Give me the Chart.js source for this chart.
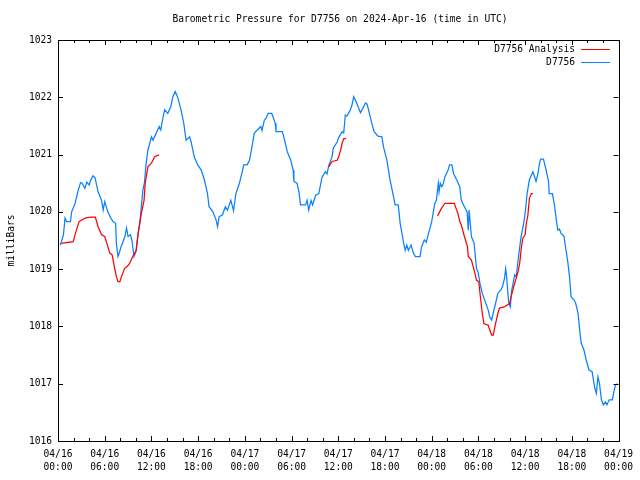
<!DOCTYPE html>
<html>
<head>
<meta charset="utf-8">
<script src="https://cdn.jsdelivr.net/npm/chart.js@4/dist/chart.umd.min.js"></script>
<style>
  html, body { margin: 0; padding: 0; background: #fff; }
  #wrap { width: 640px; height: 480px; }
</style>
</head>
<body>
<div id="wrap"><canvas id="chart" width="640" height="480"></canvas></div>
<script>
// hours since 2024-04-16 00:00 UTC
const blueHours = [
  0.3, 0.7, 0.9, 1.1, 1.6, 1.75, 2.0, 2.2, 2.6, 2.9, 3.1, 3.45, 3.7, 4.0, 4.2, 4.5, 4.75, 5.15, 5.6, 5.8,
  6.0, 6.4, 6.75, 7.07, 7.4, 7.5, 7.7, 7.9, 8.1, 8.6, 8.8, 9.0, 9.3, 9.5, 9.76, 10.0, 10.3, 10.5, 10.7, 10.9,
  11.1, 11.3, 11.55, 11.8, 12.0, 12.2, 12.6, 13.0, 13.2, 13.5, 13.7, 14.1, 14.5, 14.75, 15.05, 15.35, 15.8, 16.15, 16.45, 16.9,
  17.1, 17.5, 17.95, 18.4, 18.8, 19.2, 19.4, 19.9, 20.3, 20.5, 20.7, 21.1, 21.5, 21.75, 22.2, 22.55, 22.85, 23.3, 23.7, 23.85,
  24.3, 24.6, 25.0, 25.2, 25.6, 26.05, 26.2, 26.5, 26.7, 27.0, 27.45, 27.9, 28.0, 28.8, 29.0, 29.45, 29.9, 30.2, 30.3, 30.7,
  30.95, 31.15, 31.8, 32.0, 32.2, 32.5, 32.7, 33.1, 33.5, 33.9, 34.35, 34.55, 34.8, 35.2, 35.35, 35.85, 36.1, 36.5, 36.7, 36.9,
  37.1, 37.55, 37.75, 37.98, 38.3, 38.85, 39.5, 39.7, 40.0, 40.3, 40.6, 41.1, 41.6, 41.8, 42.25, 42.45, 42.65, 43.1, 43.3, 43.7,
  43.95, 44.4, 44.6, 44.8, 45.0, 45.35, 45.65, 45.9, 46.5, 46.7, 47.05, 47.3, 47.6, 48.0, 48.4, 48.6, 48.85, 48.95, 49.1, 49.3,
  49.5, 49.7, 50.1, 50.3, 50.6, 50.8, 51.2, 51.6, 51.8, 52.2, 52.55, 52.7, 52.8, 53.1, 53.45, 53.75, 53.95, 54.2, 54.5, 54.8,
  55.25, 55.45, 55.7, 55.9, 56.2, 56.5, 56.9, 57.1, 57.35, 57.5, 57.6, 57.75, 57.9, 58.1, 58.25, 58.45, 58.65, 58.85, 59.1, 59.45,
  59.85, 60.05, 60.25, 60.55, 60.8, 61.0, 61.4, 61.65, 61.85, 62.0, 62.35, 62.7, 63.0, 63.1, 63.5, 63.8, 64.0, 64.2, 64.4, 64.6,
  65.0, 65.25, 65.45, 65.7, 65.9, 66.3, 66.5, 66.8, 67.0, 67.2, 67.55, 67.8, 68.2, 68.6, 68.95, 69.15, 69.35, 69.55, 69.8, 70.05,
  70.3, 70.5, 70.8, 71.2, 71.4, 71.6, 71.85
];
const blueValues = [
  1019.42, 1019.6, 1019.89, 1019.83, 1019.83, 1020.0, 1020.08, 1020.15, 1020.38, 1020.51, 1020.5, 1020.41, 1020.52, 1020.47, 1020.55, 1020.63, 1020.6, 1020.35, 1020.2, 1020.03,
  1020.18, 1020.0, 1019.9, 1019.83, 1019.8, 1019.45, 1019.22, 1019.3, 1019.39, 1019.57, 1019.72, 1019.57, 1019.6, 1019.5, 1019.22, 1019.3, 1019.63, 1019.8, 1020.09, 1020.38,
  1020.5, 1020.82, 1021.08, 1021.2, 1021.31, 1021.25, 1021.37, 1021.49, 1021.43, 1021.66, 1021.78, 1021.72, 1021.84, 1022.01, 1022.1, 1022.01, 1021.78, 1021.55, 1021.25, 1021.31,
  1021.22, 1020.96, 1020.82, 1020.73, 1020.56, 1020.32, 1020.09, 1020.0, 1019.86, 1019.74, 1019.92, 1019.94, 1020.09, 1020.03, 1020.2, 1020.02, 1020.32, 1020.5, 1020.72, 1020.82,
  1020.82, 1020.9, 1021.2, 1021.37, 1021.43, 1021.49, 1021.42, 1021.6, 1021.63, 1021.72, 1021.72, 1021.55, 1021.4, 1021.4, 1021.31, 1021.05, 1020.9, 1020.73, 1020.53, 1020.5,
  1020.35, 1020.12, 1020.12, 1020.2, 1020.03, 1020.2, 1020.12, 1020.29, 1020.32, 1020.6, 1020.7, 1020.66, 1020.82, 1020.96, 1021.11, 1021.22, 1021.31, 1021.4, 1021.38, 1021.69,
  1021.67, 1021.78, 1021.86, 1022.01, 1021.92, 1021.73, 1021.9, 1021.88, 1021.72, 1021.55, 1021.4, 1021.32, 1021.31, 1021.14, 1020.9, 1020.73, 1020.56, 1020.26, 1020.12, 1020.12,
  1019.8, 1019.45, 1019.33, 1019.42, 1019.33, 1019.42, 1019.28, 1019.22, 1019.22, 1019.39, 1019.51, 1019.47, 1019.63, 1019.83, 1020.15, 1020.2, 1020.5, 1020.35, 1020.5, 1020.44,
  1020.5, 1020.61, 1020.73, 1020.82, 1020.82, 1020.67, 1020.56, 1020.44, 1020.2, 1020.09, 1020.0, 1019.68, 1020.03, 1019.57, 1019.45, 1019.01, 1018.95, 1018.75, 1018.58, 1018.46,
  1018.29, 1018.17, 1018.11, 1018.23, 1018.4, 1018.58, 1018.64, 1018.7, 1018.84, 1019.01, 1018.9, 1018.64, 1018.4, 1018.34, 1018.61, 1018.75, 1018.9, 1018.87, 1019.16, 1019.54,
  1019.83, 1020.03, 1020.32, 1020.56, 1020.64, 1020.7, 1020.53, 1020.67, 1020.85, 1020.92, 1020.92, 1020.73, 1020.53, 1020.32, 1020.32, 1020.09, 1019.86, 1019.68, 1019.7, 1019.63,
  1019.57, 1019.33, 1019.16, 1018.87, 1018.52, 1018.46, 1018.4, 1018.23, 1017.94, 1017.71, 1017.59, 1017.44, 1017.24, 1017.21, 1016.92, 1016.83, 1017.12, 1017.0, 1016.72, 1016.63,
  1016.68, 1016.63, 1016.72, 1016.72, 1016.86, 1016.98, 1017.0
];

// analysis series, null = gap
const redHours = [
  0.4, 1.95, 2.25, 2.7, 3.2, 3.67, 4.3, 4.8, 5.15, 5.6, 6.0, 6.35, 6.65, 6.95, 7.2, 7.5, 7.7, 7.95, 8.15, 8.55,
  8.9, 9.2, 9.6, 10.05, 10.3, 10.5, 10.7, 11.05, 11.2, 11.55, 12.0, 12.4, 12.85, 13.0,
  24.0,
  34.8, 35.2, 35.85, 36.05, 36.3, 36.5, 36.7, 37.0,
  43.0,
  48.75, 49.25, 49.7, 50.9, 51.2, 51.35, 51.6, 51.8, 52.2, 52.6, 52.7, 53.1, 53.55, 53.75, 54.05, 54.2, 54.5, 54.7, 55.25, 55.7,
  55.9, 56.2, 56.5, 56.7, 57.3, 58.0, 58.2, 58.65, 59.1, 59.3, 59.5, 59.7, 60.0, 60.15, 60.35, 60.55, 60.8, 61.0
];
const redValues = [
  1019.45, 1019.48, 1019.63, 1019.83, 1019.87, 1019.9, 1019.91, 1019.91, 1019.74, 1019.6, 1019.57, 1019.42, 1019.28, 1019.25, 1019.07, 1018.87, 1018.78, 1018.78, 1018.87, 1019.01,
  1019.05, 1019.1, 1019.22, 1019.33, 1019.63, 1019.8, 1019.97, 1020.2, 1020.5, 1020.79, 1020.85, 1020.96, 1020.99, 1020.99,
  null,
  1020.79, 1020.88, 1020.9, 1020.96, 1021.08, 1021.2, 1021.28, 1021.28,
  null,
  1019.93, 1020.06, 1020.15, 1020.15, 1020.03, 1019.98, 1019.83, 1019.77, 1019.57, 1019.39, 1019.22, 1019.16, 1018.93, 1018.81, 1018.78, 1018.58, 1018.23, 1018.05, 1018.02, 1017.85,
  1017.85, 1018.05, 1018.23, 1018.32, 1018.34, 1018.4, 1018.52, 1018.75, 1018.96, 1019.1, 1019.36, 1019.54, 1019.6, 1019.8, 1019.94, 1020.24, 1020.32, 1020.32
];

const dayLabels = ['04/16', '04/17', '04/18', '04/19'];
const timeLabels = ['00:00', '06:00', '12:00', '18:00'];

const FONT = '"DejaVu Sans Mono", "Liberation Mono", monospace';

function toPoints(xs, ys) {
  return xs.map((x, i) => ({ x: x, y: ys[i] }));
}

// gnuplot style frame: box, inward ticks, legend, title, y label
const frame = {
  id: 'frame',
  afterDraw(chart) {
    const ctx = chart.ctx;
    const a = chart.chartArea;
    const xs = chart.scales.x, ys = chart.scales.y;
    ctx.save();
    ctx.strokeStyle = '#000';
    ctx.lineWidth = 1;
    ctx.strokeRect(Math.round(a.left) + 0.5, Math.round(a.top) + 0.5,
      Math.round(a.right - a.left), Math.round(a.bottom - a.top));

    ctx.beginPath();
    for (let h = 0; h <= 72; h += 2) {
      const px = Math.round(xs.getPixelForValue(h)) + 0.5;
      const len = h % 6 === 0 ? 5 : 3;
      ctx.moveTo(px, a.bottom); ctx.lineTo(px, a.bottom - len);
      ctx.moveTo(px, a.top); ctx.lineTo(px, a.top + len);
    }
    for (let v = 1016; v <= 1023; v++) {
      const py = Math.round(ys.getPixelForValue(v)) + 0.5;
      ctx.moveTo(a.left, py); ctx.lineTo(a.left + 5, py);
      ctx.moveTo(a.right, py); ctx.lineTo(a.right - 5, py);
    }
    ctx.stroke();

    ctx.fillStyle = '#000';
    ctx.font = '9.6px ' + FONT;
    ctx.textAlign = 'center';
    ctx.textBaseline = 'middle';
    ctx.fillText('Barometric Pressure for D7756 on 2024-Apr-16 (time in UTC)', 340, 19.5);

    ctx.save();
    ctx.translate(11, (a.top + a.bottom) / 2);
    ctx.rotate(-Math.PI / 2);
    ctx.fillText('milliBars', 0, 0);
    ctx.restore();

    ctx.textAlign = 'right';
    chart.data.datasets.forEach((ds, i) => {
      const y = 49.5 + i * 13;
      ctx.fillStyle = '#000';
      ctx.fillText(ds.label, 575, y);
      ctx.strokeStyle = ds.borderColor;
      ctx.beginPath();
      ctx.moveTo(581, Math.round(y) - 0.5);
      ctx.lineTo(610, Math.round(y) - 0.5);
      ctx.stroke();
    });
    ctx.restore();
  }
};

new Chart(document.getElementById('chart'), {
  type: 'line',
  data: {
    datasets: [
      {
        label: 'D7756 Analysis',
        data: toPoints(redHours, redValues),
        borderColor: '#ff0000',
        borderWidth: 1.25,
        pointRadius: 0,
        tension: 0,
        spanGaps: false
      },
      {
        label: 'D7756',
        data: toPoints(blueHours, blueValues),
        borderColor: '#0a80ff',
        borderWidth: 1.25,
        pointRadius: 0,
        tension: 0
      }
    ]
  },
  options: {
    responsive: false,
    animation: false,
    layout: { padding: { top: 40, right: 19, left: 0, bottom: 0 } },
    plugins: {
      legend: { display: false },
      title: { display: false },
      tooltip: { enabled: false }
    },
    scales: {
      x: {
        type: 'linear',
        min: 0,
        max: 72,
        grid: { display: false, drawTicks: false },
        border: { display: false },
        afterFit(scale) { scale.height = 39; },
        ticks: {
          stepSize: 6,
          autoSkip: false,
          maxRotation: 0,
          padding: 7,
          color: '#000',
          font: { family: FONT, size: 9.6, lineHeight: 1.35 },
          callback(v) {
            return [dayLabels[Math.floor(v / 24)], timeLabels[(v % 24) / 6]];
          }
        }
      },
      y: {
        min: 1016,
        max: 1023,
        grid: { display: false, drawTicks: false },
        border: { display: false },
        afterFit(scale) { scale.width = 58; },
        ticks: {
          stepSize: 1,
          padding: 6,
          color: '#000',
          font: { family: FONT, size: 9.6 },
          callback(v) { return String(v); }
        }
      }
    }
  },
  plugins: [frame]
});
</script>
</body>
</html>
